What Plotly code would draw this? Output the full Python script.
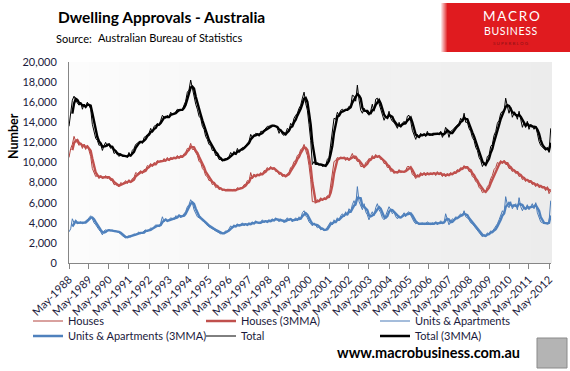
import plotly.graph_objects as go
import pandas as pd

start_month = "1988-05-01"

# Monthly dwelling approvals, May-1988 .. Jun-2012 (one row per May..Apr year)
houses = [
    10500, 11400, 11800, 12600, 12100, 12000, 11700, 11900, 11400, 11800, 11300, 11700,
    11200, 10600, 9400, 9000, 8600, 8700, 8400, 8700, 8400, 8500, 8700, 8400,
    8500, 8200, 8200, 7800, 7800, 7700, 7600, 8000, 7900, 8000, 8200, 7900,
    8300, 8000, 8400, 8500, 9000, 8900, 9000, 9200, 8900, 9300, 9300, 9700,
    9600, 9900, 9600, 10000, 9900, 10200, 10100, 10200, 10100, 10400, 10100, 10500,
    10200, 10500, 10400, 10500, 10400, 10700, 10400, 10700, 10600, 10900, 11000, 11400,
    11400, 11900, 11300, 11300, 10900, 10700, 10100, 10000, 9400, 9200, 8700, 8600,
    8200, 8200, 7800, 7900, 7500, 7600, 7300, 7400, 7200, 7300, 7200, 7300,
    7200, 7300, 7200, 7300, 7200, 7500, 7400, 7500, 7500, 7800, 7800, 8200,
    8100, 9000, 8400, 8800, 8700, 8800, 8700, 9000, 8800, 9200, 9200, 9500,
    9300, 9600, 9300, 9400, 9100, 9100, 8800, 8900, 8600, 8700, 8600, 8900,
    9000, 9500, 9600, 10100, 10200, 10700, 10800, 11300, 11400, 11800, 11200, 10700,
    9700, 8300, 6100, 6100, 6000, 6300, 6200, 6500, 6200, 6500, 6400, 6700,
    6600, 7700, 8900, 10100, 10200, 10500, 10400, 10500, 10400, 10500, 10200, 10500,
    10200, 10500, 10900, 10400, 10400, 10100, 10100, 9600, 9600, 9500, 10000, 10100,
    10400, 10300, 10700, 10400, 10800, 10500, 10600, 10300, 10300, 9900, 9900, 9500,
    9500, 9100, 9200, 8900, 9100, 9000, 9300, 9000, 9100, 9100, 9200, 9600,
    9600, 9400, 8800, 8700, 8400, 8800, 8700, 9000, 8700, 9000, 8700, 9000,
    8800, 8900, 8900, 9000, 8700, 9100, 8800, 8900, 8600, 8900, 8600, 8900,
    8700, 9000, 8800, 9100, 9000, 9300, 9200, 9500, 9400, 9700, 9400, 9500,
    9100, 9100, 8600, 8500, 8100, 8000, 7500, 7400, 7000, 7100, 7100, 7600,
    7800, 8400, 8700, 9300, 9500, 10000, 9900, 10200, 9900, 10200, 9800, 9800,
    9400, 9400, 9100, 9200, 8900, 9000, 8600, 8700, 8300, 8400, 8100, 8300,
    8000, 8100, 7800, 7900, 7600, 7900, 7500, 7600, 7500, 7500, 7200, 7600,
    6900, 7200,
]

units = [
    3100, 3400, 4400, 4000, 4100, 3900, 4000, 4100, 3900, 4000, 4200, 4300,
    4500, 4700, 4400, 4000, 3800, 3500, 3300, 3100, 2800, 3200, 3300, 3200,
    3300, 3200, 3300, 3100, 3200, 3100, 3000, 2900, 2700, 2600, 2500, 2600,
    2700, 2600, 2800, 2900, 2800, 3000, 3100, 2900, 3000, 3200, 3300, 3100,
    3300, 3500, 3400, 3600, 3800, 3700, 3600, 4000, 4600, 4100, 4300, 4200,
    4300, 4500, 4400, 4300, 4700, 4600, 4800, 4500, 4700, 4900, 5100, 5600,
    5800, 6300, 6000, 5300, 4900, 4600, 4500, 4400, 4200, 4100, 3900, 3700,
    3600, 3500, 3400, 3300, 3200, 3100, 3000, 2900, 2950, 3000, 3200, 3100,
    3400, 3700, 3500, 3800, 3600, 3900, 3700, 3800, 4000, 3700, 3900, 3800,
    4000, 3800, 4100, 3900, 4200, 4000, 3900, 4100, 4300, 4000, 4200, 4100,
    4300, 4100, 4400, 4200, 4500, 4300, 4100, 4400, 4200, 4000, 4300, 4500,
    4200, 4400, 4100, 4300, 4500, 4200, 4600, 4400, 5000, 5200, 4700, 4500,
    4100, 3900, 3700, 4000, 3800, 3500, 3600, 3300, 3400, 3200, 3300, 3600,
    3900, 4100, 3800, 4300, 4100, 4500, 4300, 4700, 4900, 4600, 5100, 4800,
    5400, 5100, 5800, 6200, 5700, 7600, 6100, 5600, 5300, 5900, 5100, 4800,
    4300, 4800, 5100, 4700, 5500, 5900, 5300, 5000, 4500, 4300, 4700, 5000,
    5600, 5300, 4900, 5100, 4600, 4400, 4700, 4500, 4800, 5000, 4600, 5000,
    5100, 4700, 4400, 4100, 3900, 4000, 3800, 3900, 4000, 3800, 3900, 4100,
    3900, 3800, 4000, 3900, 4100, 3800, 4000, 4200, 3900, 4000, 4900, 4300,
    3800, 4100, 4400, 4300, 4600, 4500, 4700, 4900, 4700, 5200, 4600, 4500,
    4300, 4000, 3900, 3700, 3400, 3200, 3000, 2800, 2600, 2800, 2700, 3000,
    2900, 3200, 3100, 3400, 3600, 3900, 4300, 4700, 5200, 4900, 6600, 5800,
    5500, 6100, 5400, 5700, 5900, 5300, 6500, 5600, 5200, 5600, 5400, 5800,
    5300, 5600, 5900, 5400, 6000, 5000, 4600, 4100, 4000, 3900, 4000, 3900,
    4100, 6200,
]

tick_years = list(range(1988, 2013))
tick_labels = [f"May-{y}" for y in tick_years]
y_ticks = list(range(0, 20001, 2000))

# ---- derived series (as in the original: total and 3-month moving averages)
months = pd.date_range(start_month, periods=len(houses), freq="MS")
h = pd.Series(houses, index=months, dtype=float)
u = pd.Series(units, index=months, dtype=float)
t = h + u
h3 = h.rolling(3).mean()
u3 = u.rolling(3).mean()
t3 = t.rolling(3).mean()

W, H = 570, 371
L, R, T, B = 69, 19, 62, 108
PW, PH = W - L - R, H - T - B


def px_x(px):
    return (px - L) / PW


def px_y(py):
    return (H - B - py) / PH


FONT = "Lato, 'Open Sans', sans-serif"
TXT = "#1a1a3c"

fig = go.Figure()

series = [
    ("Houses", h, "#b3443f", 1.0, "legend"),
    ("Houses (3MMA)", h3, "#c0504d", 2.4, "legend2"),
    ("Units & Apartments", u, "#4a7bb7", 1.0, "legend3"),
    ("Units & Apartments (3MMA)", u3, "#4f81bd", 2.4, "legend4"),
    ("Total", t, "#000000", 1.0, "legend5"),
    ("Total (3MMA)", t3, "#000000", 2.4, "legend6"),
]
for name, s, col, w, lg in series:
    fig.add_trace(go.Scatter(
        x=s.index, y=s.values, mode="lines", name=name,
        line=dict(color=col, width=w), legend=lg, hoverinfo="skip",
    ))

# legend placement (pixel origins of each entry)
leg_pos = {
    "legend": (28, 321), "legend2": (201, 321), "legend3": (375, 321),
    "legend4": (28, 336), "legend5": (201, 336), "legend6": (375, 336),
}
legends = {}
for k, (lx, ly) in leg_pos.items():
    legends[k] = dict(
        x=px_x(lx), y=px_y(ly), xanchor="left", yanchor="middle",
        orientation="h", bgcolor="rgba(0,0,0,0)", borderwidth=0,
        font=dict(family=FONT, size=11, color=TXT), itemwidth=30,
    )

shapes = []
# plot-area gradient background
n = 48
for i in range(n):
    f = i / (n - 1)
    g = int(round(252 - f * (252 - 236)))
    shapes.append(dict(
        type="rect", xref="paper", yref="paper", x0=i / n, x1=(i + 1) / n + 0.002,
        y0=0, y1=1, line=dict(width=0), fillcolor=f"rgb({g},{g},{g})", layer="below",
    ))

# logo red block with soft left edge
for i in range(6):
    a = (i + 1) / 7
    shapes.append(dict(
        type="rect", xref="paper", yref="paper",
        x0=px_x(441 + i), x1=px_x(442 + i), y0=px_y(52), y1=px_y(3),
        line=dict(width=0), fillcolor=f"rgba(224,28,30,{a:.2f})", layer="above",
    ))
shapes.append(dict(
    type="rect", xref="paper", yref="paper", x0=px_x(447), x1=px_x(571),
    y0=px_y(52), y1=px_y(3), line=dict(width=0), fillcolor="#e01b1f", layer="above",
))
# wolf picture placeholder
shapes.append(dict(
    type="rect", xref="paper", yref="paper", x0=px_x(537), x1=px_x(567),
    y0=px_y(368), y1=px_y(338), line=dict(width=1, color="#8a8a8a"),
    fillcolor="#b4b4b4", layer="above",
))

annotations = [
    dict(text="<b>Dwelling Approvals - Australia</b>", x=px_x(56), y=px_y(17),
         xanchor="left", yanchor="middle", font=dict(family=FONT, size=15.5, color="#000")),
    dict(text="Source:", x=px_x(54), y=px_y(38), xanchor="left", yanchor="middle",
         font=dict(family=FONT, size=11, color="#000")),
    dict(text="Australian Bureau of Statistics", x=px_x(96), y=px_y(37), xanchor="left",
         yanchor="middle", font=dict(family=FONT, size=11, color="#000")),
    dict(text="<b>Number</b>", x=px_x(13), y=px_y(136), textangle=-90,
         xanchor="center", yanchor="middle", font=dict(family=FONT, size=12.5, color="#000")),
    dict(text="<b>www.macrobusiness.com.au</b>", x=px_x(428), y=px_y(352),
         xanchor="center", yanchor="middle", font=dict(family=FONT, size=14.5, color="#000")),
    dict(text="M\u2009A\u2009C\u2009R\u2009O", x=px_x(511), y=px_y(15.5), xanchor="center",
         yanchor="middle", font=dict(family=FONT, size=13.5, color="#ffffff")),
    dict(text="B\u200aU\u200aS\u200aI\u200aN\u200aE\u200aS\u200aS", x=px_x(511), y=px_y(31.5),
         xanchor="center", yanchor="middle", font=dict(family=FONT, size=10.5, color="#ffffff")),
    dict(text="S U P E R B L O G", x=px_x(511), y=px_y(43.5), xanchor="center",
         yanchor="middle", font=dict(family=FONT, size=4.5, color="#8e1014")),
]
for a in annotations:
    a.update(xref="paper", yref="paper", showarrow=False)

tick_dates = [pd.Timestamp(f"{y}-05-01") for y in tick_years]

fig.update_layout(
    width=W, height=H,
    margin=dict(l=L, r=R, t=T, b=B, pad=0, autoexpand=False),
    paper_bgcolor="#ffffff", plot_bgcolor="#f4f4f4",
    font=dict(family=FONT, size=11, color=TXT),
    showlegend=True,
    shapes=shapes, annotations=annotations,
    xaxis=dict(
        range=[pd.Timestamp("1988-05-01"), pd.Timestamp("2012-06-06")],
        tickvals=tick_dates, ticktext=tick_labels, tickangle=-45,
        ticks="outside", ticklen=5, tickcolor="#868686", tickwidth=1,
        showline=True, linecolor="#868686", linewidth=1, showgrid=False, zeroline=False,
        tickfont=dict(family=FONT, size=11, color=TXT), automargin=False,
    ),
    yaxis=dict(
        range=[0, 20000], tickvals=y_ticks, tickformat=",d", ticks="",
        showline=True, linecolor="#868686", linewidth=1, showgrid=False, zeroline=False,
        tickfont=dict(family=FONT, size=11, color=TXT), ticklabelstandoff=9,
        automargin=False,
    ),
    **legends,
)

fig.write_html(
    "out.html",
    config={"displayModeBar": False},
    post_script="document.body.style.margin='0';document.body.style.overflow='hidden';",
)
